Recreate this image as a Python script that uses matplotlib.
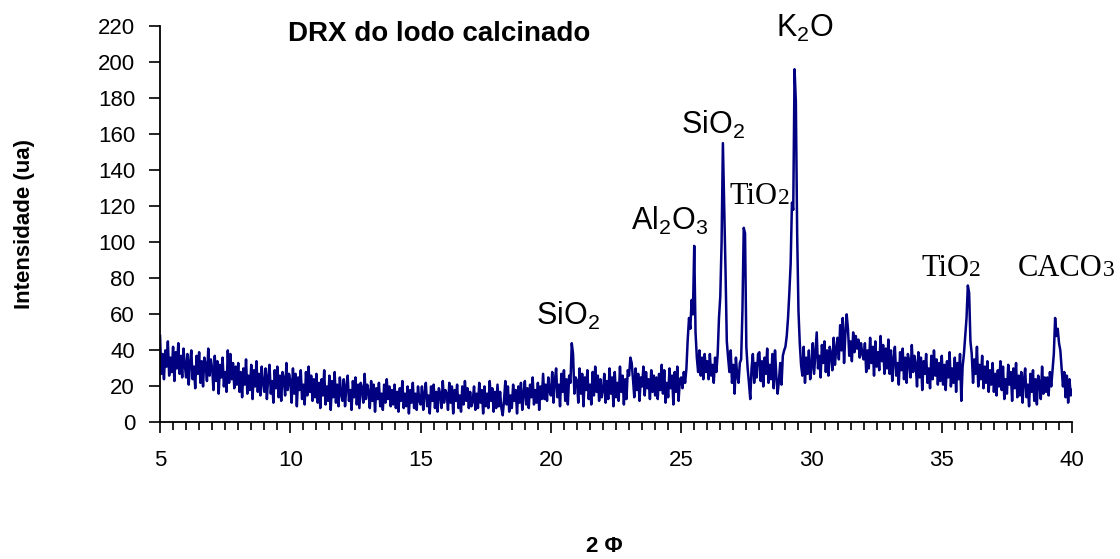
import numpy as np
import matplotlib.pyplot as plt

plt.rcParams['font.family'] = ['Liberation Sans', 'DejaVu Sans']
plt.rcParams['mathtext.fontset'] = 'custom'
plt.rcParams['mathtext.rm'] = 'Liberation Sans'

# intensidade lida a cada 0.05 grau, de 5 a 40
inten_05_10 = [48, 27, 38, 24, 40, 31, 45, 26, 36, 28, 42, 23, 39, 30, 44, 27, 37, 25, 41, 32,
               25, 38, 21, 33, 40, 24, 31, 19, 37, 27, 39, 22, 34, 20, 36, 32, 23, 41, 26, 35,
               30, 18, 37, 23, 34, 16, 32, 25, 36, 20, 28, 17, 40, 22, 38, 24, 33, 19, 31, 21,
               33, 17, 28, 14, 30, 21, 35, 16, 26, 18, 32, 13, 29, 20, 34, 17, 27, 15, 31, 22,
               17, 30, 13, 25, 32, 16, 23, 11, 29, 19, 31, 14, 26, 12, 28, 24, 15, 33, 18, 27]
inten_10_15 = [23, 11, 30, 16, 27, 9, 25, 18, 29, 13, 21, 10, 28, 15, 31, 17, 26, 12, 24, 14,
               27, 11, 22, 8, 24, 15, 29, 10, 20, 12, 26, 7, 23, 14, 28, 11, 21, 9, 25, 16,
               12, 24, 9, 20, 26, 12, 18, 7, 23, 14, 25, 10, 21, 8, 22, 19, 11, 27, 13, 21,
               17, 8, 23, 12, 21, 6, 19, 13, 22, 9, 16, 7, 21, 11, 24, 13, 20, 9, 18, 10,
               21, 8, 17, 6, 19, 12, 23, 8, 16, 9, 20, 5, 18, 11, 22, 8, 16, 7, 20, 12]
inten_15_20 = [10, 20, 7, 16, 22, 9, 15, 5, 20, 12, 21, 8, 17, 6, 19, 16, 8, 23, 11, 18,
               16, 7, 22, 11, 20, 5, 18, 12, 21, 8, 15, 6, 20, 10, 23, 12, 19, 8, 17, 9,
               12, 20, 7, 16, 8, 22, 11, 18, 5, 20, 9, 16, 8, 23, 12, 19, 6, 17, 8, 21,
               9, 17, 8, 4, 12, 23, 10, 20, 6, 15, 8, 21, 12, 18, 5, 20, 11, 22, 7, 16,
               23, 10, 19, 8, 21, 14, 25, 10, 18, 11, 22, 7, 20, 13, 27, 13, 21, 12, 25, 17]
inten_20_25 = [15, 28, 11, 23, 30, 14, 21, 9, 27, 17, 29, 12, 24, 10, 26, 22, 44, 38, 16, 25,
               23, 11, 30, 16, 27, 9, 25, 18, 29, 13, 21, 10, 28, 15, 31, 17, 26, 12, 24, 14,
               18, 27, 11, 23, 13, 30, 16, 25, 9, 28, 14, 22, 12, 31, 17, 26, 10, 24, 13, 29,
               26, 36, 33, 24, 14, 30, 18, 27, 12, 25, 20, 31, 15, 28, 19, 24, 13, 29, 17, 26,
               15, 25, 13, 27, 18, 32, 16, 29, 11, 22, 14, 30, 19, 26, 10, 28, 17, 31, 12, 24]
inten_25_30 = [25, 19, 28, 22, 30, 46, 58, 52, 68, 60, 98, 50, 36, 28, 40, 26, 36, 24, 38, 28,
               34, 24, 38, 26, 32, 22, 36, 28, 38, 58, 70, 100, 155, 120, 85, 45, 36, 28, 40, 22,
               32, 16, 36, 26, 22, 33, 35, 62, 108, 105, 42, 30, 22, 13, 30, 38, 22, 33, 25, 38,
               39, 23, 34, 20, 36, 27, 41, 22, 32, 24, 38, 19, 40, 26, 16, 23, 33, 21, 37, 40,
               42, 48, 58, 72, 88, 122, 118, 196, 178, 105, 62, 44, 32, 26, 42, 22, 36, 27, 40, 24]
inten_30_35 = [31, 44, 27, 39, 50, 30, 37, 25, 43, 33, 45, 28, 40, 26, 42, 38, 29, 47, 32, 41,
               47, 35, 54, 40, 58, 33, 49, 60, 52, 37, 45, 34, 50, 39, 48, 41, 46, 36, 44, 38,
               35, 44, 28, 40, 30, 47, 33, 42, 26, 45, 31, 39, 29, 48, 34, 43, 27, 41, 30, 46,
               27, 40, 23, 35, 42, 26, 33, 21, 39, 29, 41, 24, 36, 22, 38, 34, 25, 43, 28, 37,
               32, 20, 39, 25, 36, 18, 34, 27, 38, 22, 30, 19, 37, 24, 40, 26, 35, 21, 33, 23]
inten_35_40 = [37, 21, 32, 18, 34, 25, 39, 20, 30, 22, 36, 17, 33, 24, 38, 12, 31, 38, 48, 58,
               76, 72, 45, 38, 22, 35, 27, 42, 20, 32, 24, 37, 19, 31, 22, 34, 17, 29, 21, 33,
               17, 27, 15, 29, 20, 34, 18, 31, 13, 24, 16, 32, 21, 28, 12, 30, 19, 33, 14, 26,
               15, 28, 11, 23, 30, 14, 21, 9, 27, 17, 29, 12, 24, 10, 26, 22, 13, 31, 16, 25,
               17, 25, 15, 28, 20, 29, 38, 58, 48, 52, 44, 40, 30, 20, 28, 14, 26, 11, 24, 15,
               18]

inten = np.concatenate([inten_05_10, inten_10_15, inten_15_20, inten_20_25,
                        inten_25_30, inten_30_35, inten_35_40])
theta = 5 + 0.05 * np.arange(len(inten))

fig = plt.figure(figsize=(11.2, 5.59), dpi=100)
ax = fig.add_axes([0.1429, 0.2442, 0.8143, 0.7093])

ax.plot(theta, inten, color='#000080', lw=1.8)

ax.set_xlim(5, 40)
ax.set_ylim(0, 220)
ax.set_xticks(np.arange(5, 41, 5))
ax.set_xticks(np.arange(5, 40.01, 0.5), minor=True)
ax.set_yticks(np.arange(0, 221, 20))

ax.spines['top'].set_visible(False)
ax.spines['right'].set_visible(False)
ax.spines['left'].set_linewidth(1.3)
ax.spines['bottom'].set_linewidth(1.3)
ax.tick_params(axis='y', which='major', direction='out', length=8, width=1.2,
               labelsize=16, pad=10)
ax.tick_params(axis='x', which='major', direction='out', length=8, width=1.2,
               labelsize=16, pad=12)
ax.tick_params(axis='x', which='minor', direction='out', length=6, width=1.2)

ax.set_ylabel('Intensidade (ua)', fontsize=16, fontweight='bold', labelpad=45)
fig.text(0.54, 1 - 546 / 559, '2 Φ', fontsize=16, fontweight='bold',
         ha='center', va='center')

ax.text(15.7, 211.6, 'DRX do lodo calcinado', fontsize=20, fontweight='bold',
        ha='center', va='baseline')

# identificacao dos picos
sans = dict(fontsize=22, ha='center', va='baseline')
ax.text(20.66, 54.0, r'SiO$_\mathregular{2}$', **sans)
ax.text(24.57, 106.7, r'Al$_\mathregular{2}$O$_\mathregular{3}$', **sans)
ax.text(26.22, 160.2, r'SiO$_\mathregular{2}$', **sans)
ax.text(29.75, 213.8, r'K$_\mathregular{2}$O', **sans)

# rotulos em Times: o indice fica na linha de base, menor
def serif_label(x, y, base, idx):
    ax.text(x, y, base, fontsize=22, family='Liberation Serif',
            ha='right', va='baseline')
    ax.text(x, y, idx, fontsize=17, family='Liberation Serif',
            ha='left', va='baseline')

serif_label(28.70, 121.1, 'TiO', '2')
serif_label(36.06, 81.2, 'TiO', '2')
serif_label(41.17, 81.2, 'CACO', '3')

fig.savefig('out.png', dpi=100)
